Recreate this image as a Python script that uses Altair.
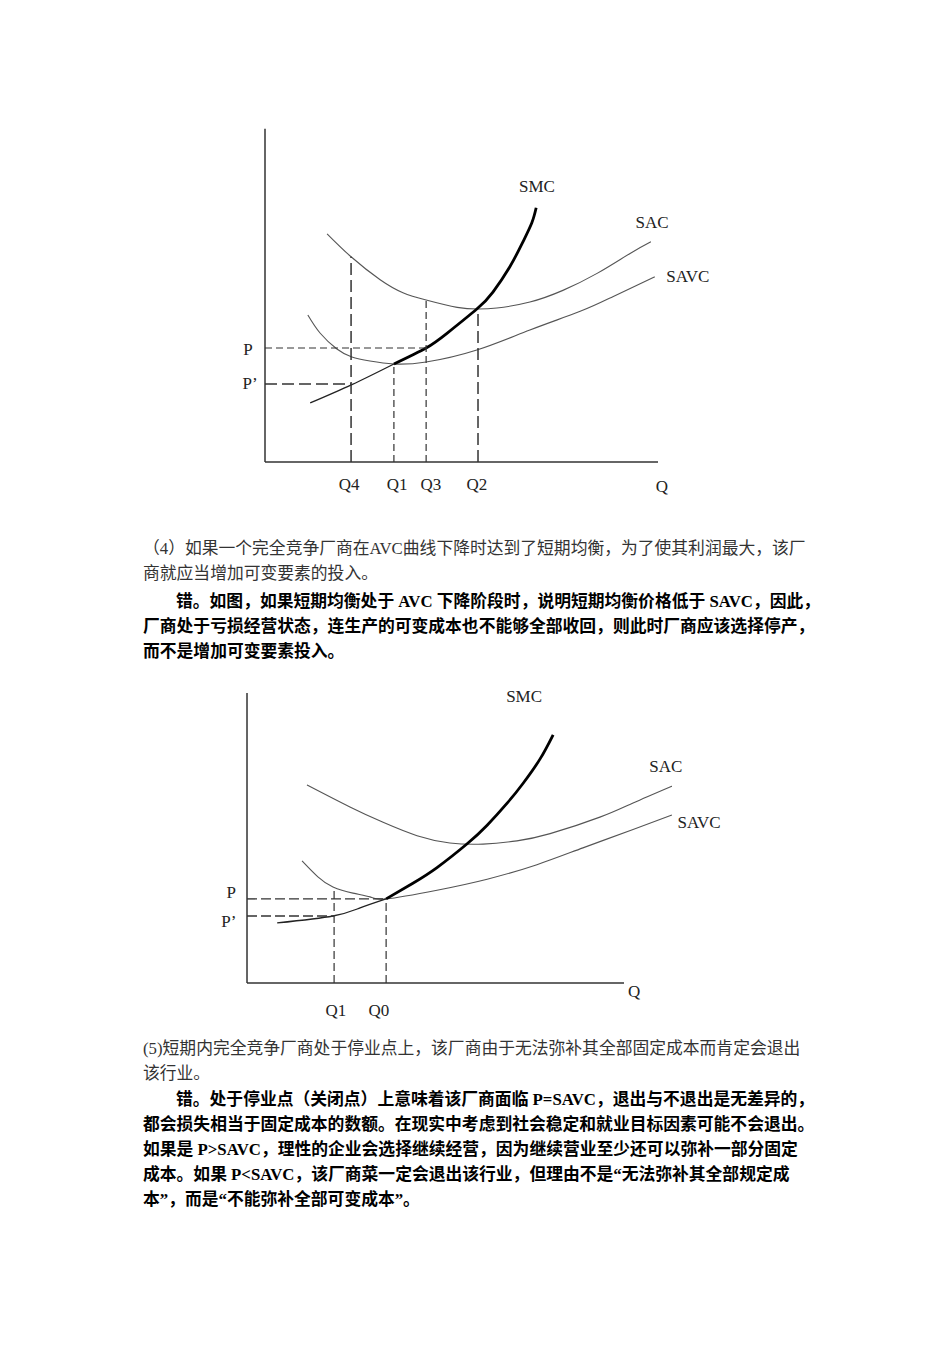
import altair as alt
import pandas as pd

# ---------------- Diagram 1 (units: Q 0-100 along axis, C 0-100 up axis) -------------
d1_sac_q = [15.8, 21.9, 29.3, 35.1, 41.0, 48.9, 54.2, 59.0, 67.4, 75.8, 84.5, 92.9, 98.2]
d1_sac_c = [68.5, 61.6, 54.7, 50.8, 48.6, 46.4, 45.9, 46.2, 48.0, 51.5, 56.6, 62.6, 66.1]
d1_savc_q = [10.9, 14.0, 18.3, 22.1, 26.7, 32.8, 41.0, 53.9, 67.4, 80.2, 88.5, 99.2]
d1_savc_c = [44.1, 38.7, 33.9, 31.5, 30.3, 29.4, 30.0, 33.6, 39.6, 45.2, 49.6, 55.6]
d1_smc_low_q = [11.5, 22.1, 32.8]
d1_smc_low_c = [17.7, 23.2, 29.4]
d1_smc_q = [32.8, 41.0, 46.3, 53.9, 58.0, 62.3, 65.6, 67.9, 69.0]
d1_smc_c = [29.4, 34.2, 38.6, 45.9, 51.0, 58.6, 66.0, 71.8, 76.3]
d1_vguide_q = [32.8, 41.0]          # Q1, Q3 (fine dashes)
d1_vguide_top = [29.4, 48.6]
d1_vguide2_q = [21.9, 54.2]         # Q4, Q2 (long dashes)
d1_vguide2_top = [61.6, 45.9]
d1_hguide_c = [34.2]                # P
d1_hguide_end = [41.0]
d1_hguide2_c = [23.4]               # P'
d1_hguide2_end = [21.9]
d1_labels = ["SMC", "SAC", "SAVC", "P", "P’", "Q4", "Q1", "Q3", "Q2", "Q"]
d1_label_q = [69.2, 98.5, 107.6, -4.3, -3.8, 21.4, 33.6, 42.2, 53.9, 101.0]
d1_label_c = [82.6, 71.8, 55.6, 33.6, 23.4, -6.9, -6.9, -6.9, -6.9, -7.5]

# ---------------- Diagram 2 ----------------
d2_sac_q = [15.9, 27.3, 36.1, 45.1, 53.8, 62.6, 71.6, 80.4, 93.6, 102.4, 112.7]
d2_sac_c = [68.3, 60.7, 55.4, 50.8, 48.3, 47.9, 49.0, 51.5, 57.2, 62.1, 67.9]
d2_savc_q = [14.6, 18.8, 22.8, 28.1, 32.6, 36.9, 50.4, 63.7, 76.9, 89.1, 102.4, 112.7]
d2_savc_c = [42.1, 36.6, 33.1, 31.0, 29.7, 29.0, 32.0, 35.8, 40.8, 46.6, 52.9, 57.9]
d2_smc_low_q = [8.0, 22.8, 30.0, 36.9]
d2_smc_low_c = [20.7, 23.1, 25.9, 29.0]
d2_smc_q = [36.9, 44.0, 50.4, 58.4, 63.7, 69.0, 73.2, 77.7, 81.2]
d2_smc_c = [29.0, 34.4, 39.8, 48.0, 54.4, 62.0, 68.8, 77.2, 85.6]
d2_vguide_q = [23.1, 36.9]          # Q1, Q0
d2_vguide_top = [33.1, 29.0]
d2_hguide_c = [29.0, 23.1]          # P, P'
d2_hguide_end = [36.9, 23.1]
d2_labels = ["SMC", "SAC", "SAVC", "P", "P’", "Q1", "Q0", "Q"]
d2_label_q = [73.5, 111.1, 119.9, -4.2, -4.8, 23.6, 35.0, 102.7]
d2_label_c = [98.6, 74.5, 55.2, 31.0, 21.0, -9.7, -9.7, -3.1]

# ---------------- Text ----------------
text_lines = [
    "（4）如果一个完全竞争厂商在AVC曲线下降时达到了短期均衡，为了使其利润最大，该厂",
    "商就应当增加可变要素的投入。",
    "错。如图，如果短期均衡处于 AVC 下降阶段时，说明短期均衡价格低于 SAVC，因此，",
    "厂商处于亏损经营状态，连生产的可变成本也不能够全部收回，则此时厂商应该选择停产，",
    "而不是增加可变要素投入。",
    "(5)短期内完全竞争厂商处于停业点上，该厂商由于无法弥补其全部固定成本而肯定会退出",
    "该行业。",
    "错。处于停业点（关闭点）上意味着该厂商面临 P=SAVC，退出与不退出是无差异的，",
    "都会损失相当于固定成本的数额。在现实中考虑到社会稳定和就业目标因素可能不会退出。",
    "如果是  P>SAVC，理性的企业会选择继续经营，因为继续营业至少还可以弥补一部分固定",
    "成本。如果  P<SAVC，该厂商菜一定会退出该行业，但理由不是“无法弥补其全部规定成",
    "本”，而是“不能弥补全部可变成本”。",
]
text_row = [0, 1, 2.1, 3.1, 4.1, 20, 21, 22.05, 23.05, 24.05, 25.05, 26.05]
text_indent = [0, 0, 2, 0, 0, 0, 0, 2, 0, 0, 0, 0]
text_bold = [False, False, True, True, True, False, False, True, True, True, True, True]

FONT_LABEL = "Liberation Serif"
FONT_TEXT = "Liberation Serif, Noto Sans CJK SC"


def curve_df(q, c):
    return pd.DataFrame({"q": q, "c": c, "o": list(range(len(q)))})


def diagram(sx, sy, sac, savc, smc_low, smc, vguides, hguides, labels, axis_len):
    X = lambda f: alt.X(f, type="quantitative", scale=sx, axis=None)
    Y = lambda f: alt.Y(f, type="quantitative", scale=sy, axis=None)

    axes_df = pd.DataFrame({"q": [0, 0], "q2": [0, axis_len[0]],
                            "c": [0, 0], "c2": [axis_len[1], 0]})
    axes = alt.Chart(axes_df).mark_rule(color="#333333", strokeWidth=1.5).encode(
        x=X("q"), x2="q2", y=Y("c"), y2="c2")

    layers = [axes]
    for q, c, w, col in [(sac[0], sac[1], 1.1, "#555555"),
                         (savc[0], savc[1], 1.1, "#555555"),
                         (smc_low[0], smc_low[1], 1.3, "#222222"),
                         (smc[0], smc[1], 2.8, "#000000")]:
        layers.append(alt.Chart(curve_df(q, c)).mark_line(
            color=col, strokeWidth=w, interpolate="natural").encode(
            x=X("q"), y=Y("c"), order="o:Q"))

    for (qs, tops, dash, w) in vguides:
        df = pd.DataFrame({"q": qs, "c0": [0] * len(qs), "c1": tops})
        layers.append(alt.Chart(df).mark_rule(
            color="#333333", strokeWidth=w, strokeDash=dash).encode(
            x=X("q"), y=Y("c0"), y2="c1"))
    for (cs, ends, dash, w) in hguides:
        df = pd.DataFrame({"c": cs, "q0": [0] * len(cs), "q1": ends})
        layers.append(alt.Chart(df).mark_rule(
            color="#333333", strokeWidth=w, strokeDash=dash).encode(
            y=Y("c"), x=X("q0"), x2="q1"))

    lab_df = pd.DataFrame({"t": labels[0], "q": labels[1], "c": labels[2]})
    layers.append(alt.Chart(lab_df).mark_text(
        font=FONT_LABEL, fontSize=17, color="#222222",
        align="center", baseline="middle").encode(
        x=X("q"), y=Y("c"), text="t:N"))
    return alt.layer(*layers)


sx1 = alt.Scale(domain=[-67.43, 174.3], nice=False, zero=False)
sy1 = alt.Scale(domain=[-265.2, 138.7], nice=False, zero=False)
sx2 = alt.Scale(domain=[-65.52, 186.47], nice=False, zero=False)
sy2 = alt.Scale(domain=[-124.83, 338.97], nice=False, zero=False)

diag1 = diagram(
    sx1, sy1,
    (d1_sac_q, d1_sac_c), (d1_savc_q, d1_savc_c),
    (d1_smc_low_q, d1_smc_low_c), (d1_smc_q, d1_smc_c),
    [(d1_vguide_q, d1_vguide_top, [7, 4], 1.2),
     (d1_vguide2_q, d1_vguide2_top, [12, 5], 1.5)],
    [(d1_hguide_c, d1_hguide_end, [7, 4], 1.2),
     (d1_hguide2_c, d1_hguide2_end, [12, 5], 1.6)],
    (d1_labels, d1_label_q, d1_label_c),
    (100, 100),
)

diag2 = diagram(
    sx2, sy2,
    (d2_sac_q, d2_sac_c), (d2_savc_q, d2_savc_c),
    (d2_smc_low_q, d2_smc_low_c), (d2_smc_q, d2_smc_c),
    [(d2_vguide_q, d2_vguide_top, [8, 4], 1.2)],
    [(d2_hguide_c, d2_hguide_end, [10, 4], 1.4)],
    (d2_labels, d2_label_q, d2_label_c),
    (100, 100),
)

txt_df = pd.DataFrame({"t": text_lines, "row": text_row,
                       "indent": text_indent, "bold": text_bold})
tx = alt.Scale(domain=[-8.667, 48.91], nice=False, zero=False)
ty = alt.Scale(domain=[-21.96, 31.84], nice=False, zero=False, reverse=True)

txt_normal = alt.Chart(txt_df).transform_filter("!datum.bold").mark_text(
    font=FONT_TEXT, fontSize=16.8, color="#333333", align="left", baseline="middle"
).encode(x=alt.X("indent:Q", scale=tx, axis=None),
         y=alt.Y("row:Q", scale=ty, axis=None), text="t:N")
txt_bold = alt.Chart(txt_df).transform_filter("datum.bold").mark_text(
    font=FONT_TEXT, fontSize=16.8, fontWeight="bold", color="#000000",
    align="left", baseline="middle"
).encode(x=alt.X("indent:Q", scale=tx, axis=None),
         y=alt.Y("row:Q", scale=ty, axis=None), text="t:N")
texts = alt.layer(txt_normal, txt_bold)

chart = alt.layer(diag1, diag2, texts).resolve_scale(
    x="independent", y="independent"
).properties(
    width=950, height=1345,
    autosize=alt.AutoSizeParams(type="none"),
    padding=0, background="white",
).configure_view(stroke=None)

chart.save("out.html", embed_options={"renderer": "svg", "actions": False})
